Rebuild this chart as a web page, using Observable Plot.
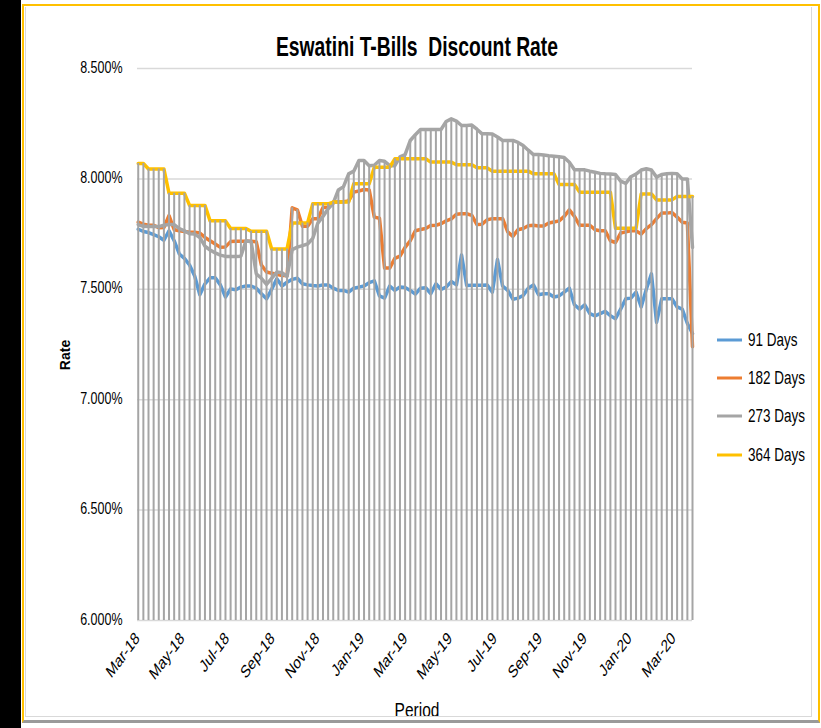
<!DOCTYPE html>
<html><head><meta charset="utf-8">
<script src="https://cdn.jsdelivr.net/npm/d3@7"></script>
<script src="https://cdn.jsdelivr.net/npm/@observablehq/plot@0.6"></script>
<style>
html,body{margin:0;padding:0;background:#fff;}
#wrap{position:relative;width:821px;height:728px;overflow:hidden;font-family:"Liberation Sans",Arial,sans-serif;}
.abs{position:absolute;}
</style></head><body>
<div id="wrap">
 <div class="abs" style="left:0;top:0;width:21px;height:728px;background:#000"></div>
 <div id="chart" class="abs" style="left:0;top:0"></div>
 <svg id="overlay" class="abs" style="left:0;top:0" width="821" height="728"></svg>
 <div class="abs" style="left:22px;top:4px;width:794px;height:714px;border:2px solid #FFC000;border-bottom:3px solid #9a9a9a;pointer-events:none"></div>
 <div class="abs" style="left:25px;top:7px;width:785px;height:709px;border:1px solid #d9d9d9;border-top:none;pointer-events:none"></div>
</div>
<script>
const title = "Eswatini T-Bills  Discount Rate";
const xLabel = "Period";
const yLabel = "Rate";
const seriesNames = ["91 Days", "182 Days", "273 Days", "364 Days"];
const seriesColors = ["#5B9BD5", "#ED7D31", "#A5A5A5", "#FFC000"];
const yTicks = [6, 6.5, 7, 7.5, 8, 8.5];
const xTicks = ["2018-03-01","2018-05-01","2018-07-01","2018-09-01","2018-11-01","2019-01-01","2019-03-01",
  "2019-05-01","2019-07-01","2019-09-01","2019-11-01","2020-01-01","2020-03-01"];
const periods = [
"2018-03-02","2018-03-09","2018-03-16","2018-03-23","2018-03-30",
"2018-04-06","2018-04-13","2018-04-20","2018-04-27",
"2018-05-04","2018-05-11","2018-05-18","2018-05-25",
"2018-06-01","2018-06-08","2018-06-15","2018-06-22","2018-06-29",
"2018-07-06","2018-07-13","2018-07-20","2018-07-27",
"2018-08-03","2018-08-10","2018-08-17","2018-08-24","2018-08-31",
"2018-09-07","2018-09-14","2018-09-21","2018-09-28",
"2018-10-05","2018-10-12","2018-10-19","2018-10-26",
"2018-11-02","2018-11-09","2018-11-16","2018-11-23","2018-11-30",
"2018-12-07","2018-12-14","2018-12-21","2018-12-28",
"2019-01-04","2019-01-11","2019-01-18","2019-01-25",
"2019-02-01","2019-02-08","2019-02-15","2019-02-22",
"2019-03-01","2019-03-08","2019-03-15","2019-03-22","2019-03-29",
"2019-04-05","2019-04-12","2019-04-19","2019-04-26",
"2019-05-03","2019-05-10","2019-05-17","2019-05-24","2019-05-31",
"2019-06-07","2019-06-14","2019-06-21","2019-06-28",
"2019-07-05","2019-07-12","2019-07-19","2019-07-26",
"2019-08-02","2019-08-09","2019-08-16","2019-08-23","2019-08-30",
"2019-09-06","2019-09-13","2019-09-20","2019-09-27",
"2019-10-04","2019-10-11","2019-10-18","2019-10-25",
"2019-11-01","2019-11-08","2019-11-15","2019-11-22","2019-11-29",
"2019-12-06","2019-12-13","2019-12-20","2019-12-27",
"2020-01-03","2020-01-10","2020-01-17","2020-01-24","2020-01-31",
"2020-02-07","2020-02-14","2020-02-21","2020-02-28",
"2020-03-06","2020-03-13","2020-03-20","2020-03-27"];
const d91 = [7.772,7.762,7.757,7.748,7.738,7.722,7.765,7.72,7.66,7.64,
7.61,7.56,7.475,7.525,7.552,7.552,7.52,7.465,7.502,7.498,
7.51,7.515,7.515,7.505,7.48,7.457,7.50,7.548,7.515,7.532,
7.545,7.55,7.525,7.52,7.517,7.515,7.52,7.52,7.505,7.495,
7.495,7.487,7.505,7.51,7.515,7.53,7.538,7.47,7.46,7.515,
7.495,7.51,7.508,7.495,7.478,7.505,7.507,7.48,7.525,7.50,
7.51,7.535,7.52,7.655,7.517,7.518,7.518,7.518,7.52,7.487,
7.635,7.515,7.495,7.455,7.46,7.472,7.505,7.52,7.475,7.48,
7.48,7.465,7.47,7.487,7.505,7.43,7.41,7.43,7.39,7.38,
7.39,7.40,7.38,7.367,7.41,7.457,7.46,7.487,7.42,7.50,
7.57,7.35,7.457,7.457,7.457,7.42,7.41,7.345,7.30];
const d182 = [7.804,7.795,7.79,7.79,7.779,7.78,7.834,7.77,7.765,7.762,
7.758,7.758,7.755,7.735,7.72,7.705,7.69,7.692,7.716,7.718,
7.718,7.718,7.718,7.715,7.61,7.578,7.573,7.568,7.562,7.562,
7.869,7.86,7.786,7.786,7.82,7.82,7.87,7.872,7.895,7.895,
7.897,7.90,7.94,7.945,7.952,7.95,7.827,7.822,7.596,7.596,
7.64,7.65,7.69,7.72,7.765,7.771,7.775,7.789,7.79,7.797,
7.81,7.819,7.84,7.842,7.842,7.835,7.793,7.795,7.815,7.82,
7.82,7.82,7.76,7.74,7.77,7.775,7.788,7.79,7.787,7.787,
7.80,7.805,7.81,7.83,7.86,7.83,7.79,7.79,7.79,7.77,
7.765,7.765,7.72,7.712,7.755,7.76,7.765,7.765,7.75,7.775,
7.793,7.82,7.845,7.845,7.848,7.827,7.804,7.80,7.24];
const d273 = [7.793,7.785,7.784,7.784,7.784,7.79,7.793,7.793,7.775,7.765,
7.752,7.75,7.735,7.695,7.678,7.665,7.655,7.649,7.649,7.649,
7.65,7.72,7.715,7.57,7.55,7.522,7.55,7.578,7.575,7.558,
7.68,7.691,7.698,7.705,7.73,7.80,7.83,7.865,7.89,7.95,
7.965,8.023,8.035,8.083,8.083,8.06,8.062,8.083,8.08,8.06,
8.06,8.10,8.11,8.174,8.20,8.224,8.224,8.224,8.224,8.224,
8.26,8.272,8.262,8.242,8.242,8.244,8.225,8.204,8.204,8.203,
8.19,8.174,8.174,8.174,8.165,8.151,8.13,8.11,8.11,8.108,
8.105,8.103,8.10,8.097,8.075,8.041,8.041,8.041,8.035,8.03,
8.025,8.023,8.022,8.02,7.99,7.98,8.01,8.022,8.04,8.046,
8.04,8.008,8.02,8.023,8.025,8.023,8.0,8.0,7.69];
const d364 = [8.07,8.07,8.045,8.045,8.045,8.045,7.935,7.935,7.935,7.935,
7.88,7.88,7.88,7.88,7.81,7.81,7.81,7.81,7.775,7.775,
7.775,7.775,7.763,7.763,7.763,7.763,7.683,7.683,7.683,7.683,
7.80,7.80,7.80,7.80,7.887,7.887,7.887,7.887,7.895,7.895,
7.895,7.895,7.978,7.978,7.978,7.978,8.053,8.053,8.053,8.053,
8.091,8.091,8.091,8.091,8.091,8.091,8.091,8.076,8.076,8.076,
8.076,8.076,8.064,8.064,8.064,8.064,8.05,8.05,8.05,8.035,
8.035,8.035,8.035,8.035,8.035,8.035,8.035,8.023,8.023,8.023,
8.023,8.023,7.975,7.975,7.975,7.975,7.94,7.94,7.94,7.94,
7.94,7.94,7.94,7.777,7.777,7.777,7.777,7.777,7.932,7.932,
7.932,7.905,7.905,7.905,7.905,7.92,7.92,7.92,7.92];

const K = 1.35; // vertical stretch of the original picture's lettering
const dates = periods.map(s => new Date(s));
const seriesValues = [d91, d182, d273, d364];
const long = seriesNames.flatMap((name, k) => seriesValues[k].map((v, i) => ({date: dates[i], value: v, series: name})));
const drops = dates.map((d, i) => ({date: d, top: Math.max(d91[i], d182[i], d273[i], d364[i])}));
const xTickDates = xTicks.map(s => new Date(s));

const chart = Plot.plot({
  width: 821, height: 728,
  marginLeft: 137, marginRight: 129, marginTop: 68, marginBottom: 108,
  style: {background: "transparent", fontFamily: "'Liberation Sans', Arial, sans-serif", fontSize: "12.5px", color: "#000", overflow: "visible"},
  x: {type: "utc", domain: [new Date("2018-03-01"), new Date("2020-03-27")]},
  y: {domain: [6, 8.5]},
  color: {domain: seriesNames, range: seriesColors},
  marks: [
    Plot.gridY(yTicks, {stroke: "#d9d9d9", strokeOpacity: 1, strokeWidth: 1.5}),
    Plot.lineY(long, {x: "date", y: "value", z: "series", stroke: "series", strokeWidth: 3.5}),
    Plot.ruleX(drops, {x: "date", y1: 6, y2: "top", stroke: "#a5a5a5", strokeWidth: 2}),
    Plot.axisY(yTicks, {tickSize: 0, tickPadding: 15, tickFormat: d => d.toFixed(3) + "%", label: null, fontSize: 12.5}),
    Plot.axisX(xTickDates, {tickSize: 0, tickPadding: 16, tickRotate: -45, tickFormat: d3.utcFormat("%b-%y"), label: null, fontSize: 13})
  ]
});
document.getElementById("chart").appendChild(chart);

// stretch each tick label vertically about its own anchor (the reference lettering is tall and narrow)
function stretchText(el) {
  const svg = el.ownerSVGElement;
  const tl = el.transform.baseVal;
  const m = tl.numberOfItems ? tl.consolidate().matrix : svg.createSVGMatrix();
  const ax = el.x.baseVal.numberOfItems ? el.x.baseVal.getItem(0).value : 0;
  const ay = el.y.baseVal.numberOfItems ? el.y.baseVal.getItem(0).value : 0;
  const px = m.a * ax + m.c * ay + m.e, py = m.b * ax + m.d * ay + m.f;
  const s = svg.createSVGMatrix().translate(px, py).scaleNonUniform(1, K).translate(-px, -py).multiply(m);
  el.setAttribute("transform", `matrix(${s.a},${s.b},${s.c},${s.d},${s.e},${s.f})`);
}
chart.querySelectorAll("text").forEach(stretchText);

const ov = d3.select("#overlay").style("font-family", "'Liberation Sans', Arial, sans-serif");
ov.append("text").attr("x", 417).attr("y", 56).attr("text-anchor", "middle")
  .attr("font-weight", "bold").attr("font-size", 28).attr("textLength", 282)
  .attr("lengthAdjust", "spacingAndGlyphs").style("white-space", "pre").text(title);
ov.append("text").attr("transform", "translate(70,355) rotate(-90)").attr("text-anchor", "middle")
  .attr("font-weight", "bold").attr("font-size", 14).text(yLabel);
ov.append("text").attr("transform", `translate(417,717) scale(1,${K})`).attr("text-anchor", "middle")
  .attr("font-size", 15.5).text(xLabel);
const legendY = [340, 378, 416, 455];
seriesNames.forEach((name, k) => {
  ov.append("line").attr("x1", 717).attr("x2", 742).attr("y1", legendY[k]).attr("y2", legendY[k])
    .attr("stroke", seriesColors[k]).attr("stroke-width", 3);
  ov.append("text").attr("transform", `translate(748,${legendY[k]}) scale(1,${K})`).attr("dy", "0.35em")
    .attr("font-size", 13.5).text(name);
});
</script>
</body></html>
